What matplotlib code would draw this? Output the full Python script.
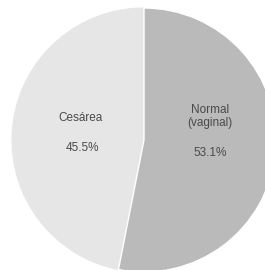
import matplotlib.pyplot as plt

# delivery type shares (%), the rest is not shown
labels = ["Normal\n(vaginal)", "Cesárea"]
values = [53.1, 45.5]
other = 100 - sum(values)

fig = plt.figure(figsize=(2.65, 2.70), dpi=100)
ax = fig.add_axes([12 / 265, -2 / 270, 264 / 265, 264 / 270])

cols = ["#bababa", "#e6e6e6", "#e6e6e6"]
wedges, _ = ax.pie(values + [other], colors=cols,
                   startangle=90, counterclock=False)
# no seam between cesarea and the small remainder slice
for w, c in zip(wedges, cols):
    w.set_edgecolor(c)
    w.set_linewidth(0.8)
wedges[0].set_edgecolor("white")
wedges[0].set_linewidth(1.0)
wedges[0].set_zorder(3)

ax.set_xlim(-1, 1)
ax.set_ylim(-1, 1)

txt = dict(ha="center", va="center", fontsize=8.5, color="#4a4a4a",
           family="Liberation Sans")
ax.text(0.50, 0.18, labels[0], linespacing=1.15, **txt)
ax.text(0.50, -0.10, f"{values[0]:.1f}%", **txt)
ax.text(-0.48, 0.17, labels[1], **txt)
ax.text(-0.47, -0.06, f"{values[1]:.1f}%", **txt)

plt.savefig("out.png", dpi=100)
